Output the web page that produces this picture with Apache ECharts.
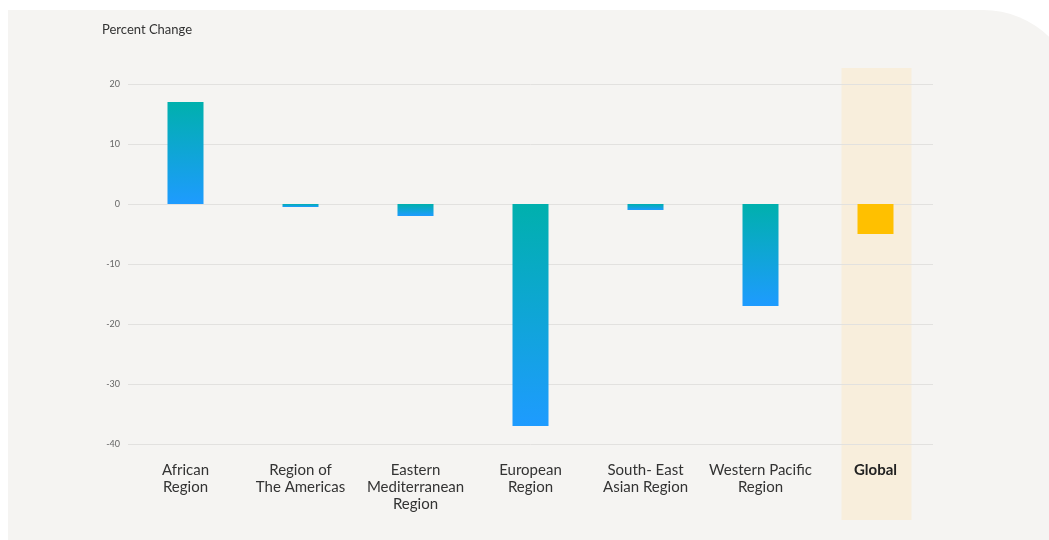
<!DOCTYPE html>
<html>
<head>
<meta charset="utf-8">
<script src="https://cdn.jsdelivr.net/npm/echarts@6/dist/echarts.min.js"></script>
<style>
  html, body { margin: 0; padding: 0; background: #ffffff; }
  #main { width: 1049px; height: 540px; }
</style>
</head>
<body>
<div id="main"></div>
<script>
var regions = ['African\nRegion', 'Region of\nThe Americas', 'Eastern\nMediterranean\nRegion',
               'European\nRegion', 'South- East\nAsian Region', 'Western Pacific\nRegion', 'Global'];
var percentChange = [17, -0.5, -2, -37, -1, -17, -5];
var yTicks = { min: -40, max: 20, interval: 10 };

var font = 'Lato, "Noto Sans", sans-serif';

var regionGradient = new echarts.graphic.LinearGradient(0, 0, 0, 1, [
    { offset: 0, color: '#00b0ad' },
    { offset: 1, color: '#1e9bff' }
]);

var barData = percentChange.map(function (v, i) {
    if (regions[i] === 'Global') {
        return { value: v, itemStyle: { color: '#ffc000' } };
    }
    return { value: v, itemStyle: { color: regionGradient } };
});

var option = {
    backgroundColor: 'transparent',
    animation: false,
    title: {
        text: 'Percent Change',
        left: 102,
        top: 23,
        padding: 0,
        textStyle: { fontFamily: font, fontSize: 13, fontWeight: 'normal', color: '#333' }
    },
    grid: { left: 128, right: 116, top: 84, bottom: 96, containLabel: false },
    xAxis: {
        type: 'category',
        data: regions,
        axisLine: { show: false },
        axisTick: { show: false },
        axisLabel: {
            interval: 0,
            margin: 18,
            fontFamily: font,
            fontSize: 15,
            lineHeight: 17,
            color: '#333',
            formatter: function (v) {
                return v === 'Global' ? '{b|' + v + '}' : v;
            },
            rich: {
                b: { fontFamily: font, fontSize: 15, fontWeight: 'bold', color: '#222' }
            }
        }
    },
    yAxis: {
        type: 'value',
        min: yTicks.min,
        max: yTicks.max,
        interval: yTicks.interval,
        axisLine: { show: false },
        axisTick: { show: false },
        axisLabel: { fontFamily: font, fontSize: 9, color: '#666', margin: 8 },
        splitLine: { lineStyle: { color: '#e2e1df', width: 1 } }
    },
    series: [{
        type: 'bar',
        data: barData,
        barWidth: 36,
        z: 3
    }]
};

var chart = echarts.init(document.getElementById('main'), null, { renderer: 'canvas' });
chart.setOption(option);

// background card and Global highlight band, placed from the axis scales
var gx = chart.convertToPixel({ xAxisIndex: 0 }, 'Global');
var yTop = chart.convertToPixel({ yAxisIndex: 0 }, yTicks.max);
var yBot = chart.convertToPixel({ yAxisIndex: 0 }, yTicks.min);
chart.setOption({
    graphic: [
        {
            type: 'rect', z: -10, silent: true,
            shape: { x: 8, y: 10, width: 1070, height: 540, r: [0, 95, 0, 0] },
            style: { fill: '#f5f4f2' }
        },
        {
            type: 'rect', z: -5, silent: true,
            shape: { x: gx - 34, y: yTop - 16, width: 70, height: (yBot - yTop) + 92 },
            style: { fill: '#f8eedc' }
        }
    ]
});
</script>
</body>
</html>
